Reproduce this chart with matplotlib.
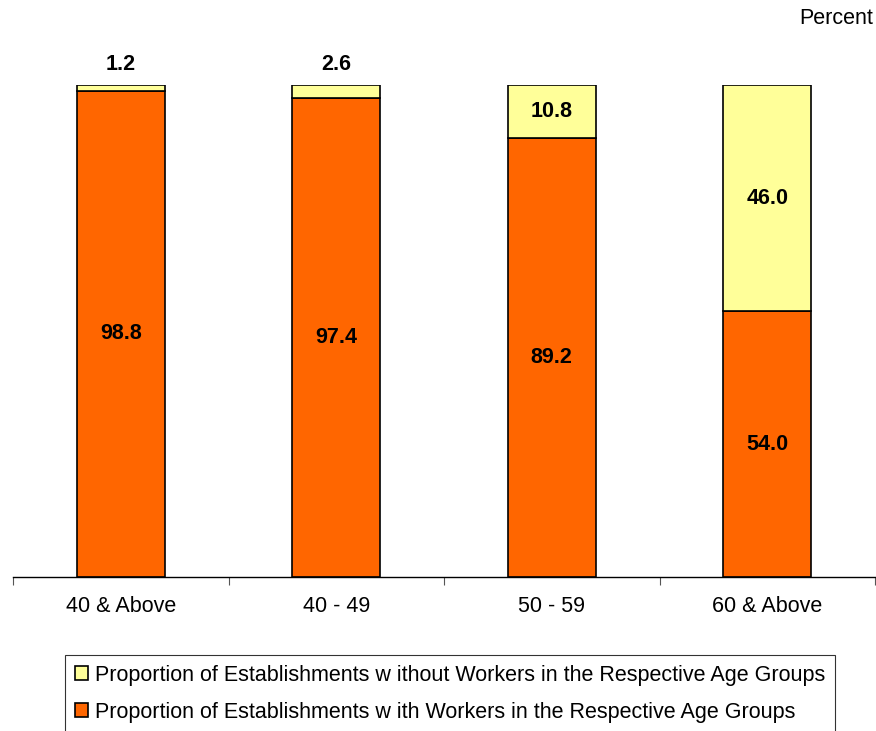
import matplotlib.pyplot as plt
import numpy as np

plt.rcParams['font.family'] = ['Liberation Sans', 'DejaVu Sans']

categories = ["40 & Above", "40 - 49", "50 - 59", "60 & Above"]
with_workers = [98.8, 97.4, 89.2, 54.0]
without_workers = [1.2, 2.6, 10.8, 46.0]
labels = ["Proportion of Establishments w ithout Workers in the Respective Age Groups",
          "Proportion of Establishments w ith Workers in the Respective Age Groups"]

orange = "#FF6600"
yellow = "#FFFF99"

fig = plt.figure(figsize=(8.76, 7.31), dpi=100)
ax = fig.add_axes([13/876, 1 - 577/731, 862/876, (577 - 85)/731])

x = np.arange(len(categories))
b1 = ax.bar(x, with_workers, width=0.41, color=orange, edgecolor="black", linewidth=1.2)
b2 = ax.bar(x, without_workers, width=0.41, bottom=with_workers, color=yellow,
            edgecolor="black", linewidth=1.2)

for i in range(len(x)):
    ax.text(x[i], with_workers[i] / 2, f"{with_workers[i]:.1f}", ha="center", va="center",
            fontsize=15.5, fontweight="bold")
    if without_workers[i] < 5:
        ax.text(x[i], 100 + 2.0, f"{without_workers[i]:.1f}", ha="center", va="bottom",
                fontsize=15.5, fontweight="bold")
    else:
        ax.text(x[i], with_workers[i] + without_workers[i] / 2, f"{without_workers[i]:.1f}",
                ha="center", va="center", fontsize=15.5, fontweight="bold")

ax.set_xlim(-0.5, len(categories) - 0.5)
ax.set_ylim(0, 100)
ax.set_yticks([])
for s in ["top", "right", "left"]:
    ax.spines[s].set_visible(False)
ax.spines["bottom"].set_linewidth(1.0)
ax.set_xticks(np.arange(-0.5, len(categories)), minor=False)
ax.set_xticklabels([])
ax.tick_params(axis="x", length=6, direction="out", color="#555555")
for i, c in enumerate(categories):
    ax.text(x[i], -3.8, c, ha="center", va="top", fontsize=15.5)

fig.text(873/876, 1 - 18/731, "Percent", ha="right", va="center", fontsize=15.5)

leg = fig.legend([b2, b1], labels, loc="upper left",
                 bbox_to_anchor=(65/876, 1 - 655/731), fontsize=15.5,
                 frameon=True, fancybox=False, edgecolor="black",
                 handlelength=0.6, handleheight=0.6, handletextpad=0.35,
                 labelspacing=0.75, borderpad=0.45, borderaxespad=0)
leg.get_frame().set_linewidth(0.8)

fig.savefig("out.png", dpi=100)
